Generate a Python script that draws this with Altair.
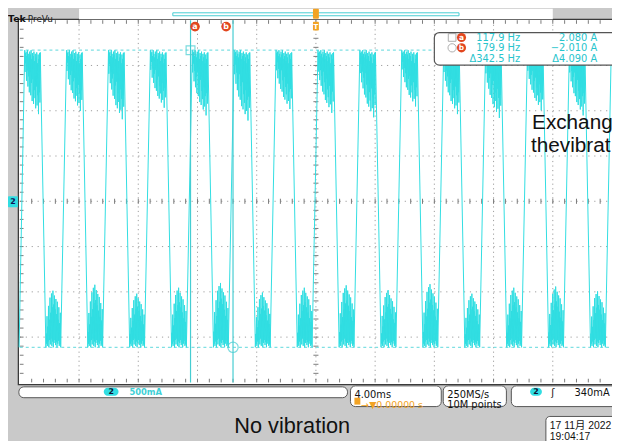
import altair as alt
import pandas as pd

# ---------------- canvas / scales ----------------
W, H = 612, 433
T_DOMAIN = [-20.8, 20.0]      # ms (4.00 ms / div, trigger at centre)
A_DOMAIN = [-3.261, 2.622]    # A
DIV_T = 4.0
DIV_A = 0.6233

# ---------------- waveform values ----------------
TOP_LEVEL = 2.080
BOTTOM_LEVEL = -2.010
PERIOD = 2.83
FIRST_TOP = -19.67
TOP_LEN, FALL_LEN, BOTTOM_LEN = 1.05, 0.38, 1.00
CURSOR_A_T = -8.47
CURSOR_B_T = -5.60

TOP_DIPS = [0.30, 0.18, 0.42, 0.28, 0.50, 0.36, 0.58, 0.30, 0.62, 0.45, 0.70,
            0.40, 0.74, 0.55, 0.66, 0.80, 0.50, 0.76, 0.62, 0.88, 0.58, 0.72]
TOP_PEAKS = [0.00, 0.04, 0.02, 0.08, 0.00, 0.05, 0.10, 0.02, 0.06, 0.00, 0.12,
             0.04, 0.08, 0.02, 0.15, 0.05, 0.10, 0.03, 0.18, 0.06, 0.12, 0.04]
BOTTOM_SPIKES = [0.20, 0.45, 0.30, 0.60, 0.40, 0.72, 0.50, 0.78, 0.58, 0.82,
                 0.62, 0.75, 0.55, 0.70, 0.48, 0.66, 0.40, 0.58, 0.35, 0.50]
BOTTOM_TROUGHS = [0.00, 0.05, 0.02, 0.08, 0.00, 0.10, 0.04, 0.12, 0.02, 0.08,
                  0.00, 0.06, 0.10, 0.03, 0.07, 0.00, 0.05, 0.09, 0.02, 0.04]
TOP_SCALE = [1.00, 0.95, 1.08, 0.90, 1.02, 1.10, 0.92, 0.98, 1.05, 0.88, 1.00, 1.06, 0.94, 1.02]
BOTTOM_SCALE = [0.95, 1.05, 0.90, 1.00, 1.08, 0.92, 1.00, 1.04, 0.96, 1.06, 0.90, 1.00, 1.02, 0.94]

READOUT_ROWS = ["117.9 Hz", "179.9 Hz", "Δ342.5 Hz"]
READOUT_VALS = ["2.080 A", "−2.010 A", "Δ4.090 A"]

CYAN = "#30dde2"
CUR = "#45cdd2"
RED = "#e2461e"
ORANGE = "#f2a324"
GRID = "#9c9c9c"
TICK = "#7a7a7a"

XS = alt.Scale(domain=T_DOMAIN, range=[0, W], nice=False, zero=False)
YS = alt.Scale(domain=A_DOMAIN, range=[H, 0], nice=False, zero=False)

# ---------------- build waveform ----------------
rows = [(-20.05, BOTTOM_LEVEL)]
for k in range(len(TOP_SCALE)):
    T = FIRST_TOP + k * PERIOD
    n = len(TOP_DIPS)
    st = TOP_LEN / n
    for i in range(n):
        rows.append((T + i * st, TOP_LEVEL - TOP_PEAKS[i]))
        rows.append((T + (i + 0.5) * st, TOP_LEVEL - TOP_DIPS[i] * TOP_SCALE[k]))
    rows.append((T + TOP_LEN, TOP_LEVEL - 0.03))
    tb = T + TOP_LEN + FALL_LEN
    m = len(BOTTOM_SPIKES)
    sb = BOTTOM_LEN / m
    for i in range(m):
        rows.append((tb + i * sb, BOTTOM_LEVEL + BOTTOM_TROUGHS[i]))
        rows.append((tb + (i + 0.5) * sb, BOTTOM_LEVEL + BOTTOM_SPIKES[i] * BOTTOM_SCALE[k]))
    rows.append((tb + BOTTOM_LEN, BOTTOM_LEVEL))
rows.append((FIRST_TOP + len(TOP_SCALE) * PERIOD, TOP_LEVEL))
wave = pd.DataFrame(rows, columns=["t", "a"])
wave["i"] = range(len(wave))

X = lambda f: alt.X(f, scale=XS, axis=None)
Y = lambda f: alt.Y(f, scale=YS, axis=None)
PX = lambda f: alt.X(f, scale=None, axis=None)
PY = lambda f: alt.Y(f, scale=None, axis=None)
XD = lambda v: alt.XDatum(v, scale=XS, axis=None)
YD = lambda v: alt.YDatum(v, scale=YS, axis=None)

A_TOP, A_BOT = 4 * DIV_A, -4 * DIV_A

# plot area
plot_bg = alt.Chart(pd.DataFrame({"t": [-20.1], "t2": [20.5], "a": [A_TOP + 0.01], "a2": [A_BOT - 0.03]})).mark_rect(
    fill="white", stroke="#3a3a3a", strokeWidth=1.3).encode(x=X("t:Q"), x2="t2:Q", y=Y("a:Q"), y2="a2:Q")

# grid
vlines = pd.DataFrame({"t": [-20 + DIV_T * k for k in range(1, 10)]})
vgrid = alt.Chart(vlines).mark_rule(color=GRID, strokeDash=[1.2, 3.4], strokeWidth=1).encode(
    x=X("t:Q"), y=YD(A_TOP), y2=alt.datum(A_BOT))
hlines = pd.DataFrame({"a": [DIV_A * j for j in range(-3, 4)]})
hgrid = alt.Chart(hlines).mark_rule(color=GRID, strokeDash=[1.2, 4.8], strokeWidth=1).encode(
    y=Y("a:Q"), x=XD(-20), x2=alt.datum(20.0))

tx = [-20 + 0.2 * DIV_T * i for i in range(1, 50)]
ay = [A_BOT + 0.2 * DIV_A * j for j in range(1, 40)]
tick_h = pd.DataFrame({"t": tx * 3,
                       "a": [-0.035] * 49 + [A_TOP] * 49 + [A_BOT] * 49,
                       "a2": [0.035] * 49 + [A_TOP - 0.05] * 49 + [A_BOT + 0.05] * 49})
ticks_h = alt.Chart(tick_h).mark_rule(color=TICK, strokeWidth=1).encode(x=X("t:Q"), y=Y("a:Q"), y2="a2:Q")
tick_v = pd.DataFrame({"a": ay * 2,
                       "t": [-0.17] * 39 + [-20] * 39,
                       "t2": [0.17] * 39 + [-19.75] * 39})
ticks_v = alt.Chart(tick_v).mark_rule(color=TICK, strokeWidth=1).encode(y=Y("a:Q"), x=X("t:Q"), x2="t2:Q")

# cursors
cur_v = alt.Chart(pd.DataFrame({"t": [CURSOR_A_T, CURSOR_B_T]})).mark_rule(color=CUR, strokeWidth=1.2).encode(
    x=X("t:Q"), y=YD(A_TOP), y2=alt.datum(A_BOT))
cur_h = alt.Chart(pd.DataFrame({"a": [TOP_LEVEL, BOTTOM_LEVEL]})).mark_rule(
    color="#7fe0e3", strokeDash=[3, 3], strokeWidth=1.2).encode(
    y=Y("a:Q"), x=XD(-20), x2=alt.datum(20.0))
cur_sq = alt.Chart(pd.DataFrame({"t": [CURSOR_A_T], "a": [TOP_LEVEL]})).mark_point(
    shape="square", size=80, filled=False, color=CUR, strokeWidth=1.2).encode(x=X("t:Q"), y=Y("a:Q"))
cur_ci = alt.Chart(pd.DataFrame({"t": [CURSOR_B_T], "a": [BOTTOM_LEVEL]})).mark_point(
    shape="circle", size=110, filled=False, color=CUR, strokeWidth=1.2).encode(x=X("t:Q"), y=Y("a:Q"))

wave_line = alt.Chart(wave).mark_line(color=CYAN, strokeWidth=1).encode(
    x=X("t:Q"), y=Y("a:Q"), order="i:Q")

# ---------------- decorations (pixel positions) ----------------
def rect(x, x2, y, y2, **kw):
    return alt.Chart(pd.DataFrame({"x": [x], "x2": [x2], "y": [y], "y2": [y2]})).mark_rect(**kw).encode(
        x=PX("x:Q"), x2="x2:Q", y=PY("y:Q"), y2="y2:Q")

def text(x, y, s, **kw):
    return alt.Chart(pd.DataFrame({"x": [x], "y": [y], "s": [s]})).mark_text(**kw).encode(
        x=PX("x:Q"), y=PY("y:Q"), text="s:N")

def dot(x, y, **kw):
    return alt.Chart(pd.DataFrame({"x": [x], "y": [y]})).mark_point(**kw).encode(x=PX("x:Q"), y=PY("y:Q"))

MONO = "DejaVu Sans"
deco = [
    rect(72, 552, -2, 8.5, fill="white"),
    rect(167, 457, 2, 5, fill=None, stroke=CUR, strokeWidth=1),
    text(0, 8, "Tek", font="DejaVu Sans", fontSize=9.5, fontWeight="bold", align="left", color="#111"),
    text(20, 8, "PreVu", font="DejaVu Sans", fontSize=9, align="left", color="#222"),
    rect(309, 315, -2, 8, fill=ORANGE, cornerRadius=1),
    rect(309, 315, 11, 20, fill=ORANGE, cornerRadius=1),
    text(312, 16, "T", font=MONO, fontSize=7, fontWeight="bold", color="white"),
    dot(189.5, 16, shape="circle", size=95, filled=True, color=RED, opacity=1),
    dot(221, 16, shape="circle", size=95, filled=True, color=RED, opacity=1),
    text(189.5, 16.5, "a", font=MONO, fontSize=8, fontWeight="bold", color="white", baseline="middle"),
    text(221, 16.5, "b", font=MONO, fontSize=8, fontWeight="bold", color="white", baseline="middle"),
    rect(0, 10, 188, 199, fill=CYAN, cornerRadius=1),
    text(5, 194, "2", font=MONO, fontSize=8, fontWeight="bold", color="#115", baseline="middle"),
    # readout box
    rect(432, 630, 22, 55, fill="white", stroke="#555", strokeWidth=1.2, cornerRadius=5),
    dot(450, 27, shape="square", size=60, filled=False, color="#8a8a8a", strokeWidth=1),
    dot(450, 37.5, shape="circle", size=70, filled=False, color="#8a8a8a", strokeWidth=1),
    dot(459.5, 27, shape="circle", size=85, filled=True, color=RED, opacity=1),
    dot(459.5, 37.5, shape="circle", size=85, filled=True, color=RED, opacity=1),
    text(459.5, 27.5, "a", font=MONO, fontSize=7.5, fontWeight="bold", color="white", baseline="middle"),
    text(459.5, 38, "b", font=MONO, fontSize=7.5, fontWeight="bold", color="white", baseline="middle"),
]
for r, (s1, s2) in enumerate(zip(READOUT_ROWS, READOUT_VALS)):
    yy = 27.5 + r * 10.5
    deco.append(text(519, yy, s1, font=MONO, fontSize=10, align="right", baseline="middle", color="#27c4cc"))
    deco.append(text(597, yy, s2, font=MONO, fontSize=10, align="right", baseline="middle", color="#27c4cc"))

deco += [
    text(531, 114, "Exchang", font="Liberation Sans", fontSize=21, align="left", color="#111"),
    text(530, 137, "thevibrat", font="Liberation Sans", fontSize=21, align="left", color="#111"),
    # bottom bar
    rect(11, 344, 381, 392, fill="white", stroke="#555", strokeWidth=1, cornerRadius=5),
    rect(97, 112, 382, 390, fill=CYAN, cornerRadius=4),
    text(104.5, 386.5, "2", font=MONO, fontSize=8, fontWeight="bold", color="#113", baseline="middle"),
    text(123, 386.5, "500mA", font=MONO, fontSize=8.5, fontWeight="bold", align="left", baseline="middle", color="#3fd0d6"),
    rect(347, 439, 380, 401, fill="white", stroke="#555", strokeWidth=1, cornerRadius=5),
    text(351, 389, "4.00ms", font=MONO, fontSize=10, align="left", color="#111"),
    rect(351, 357, 392, 399, fill=ORANGE),
    text(358, 399, "→▼0.00000 s", font=MONO, fontSize=9.5, align="left", color=ORANGE),
    rect(441, 505, 380, 401, fill="white", stroke="#555", strokeWidth=1, cornerRadius=5),
    text(445, 389, "250MS/s", font=MONO, fontSize=10, align="left", color="#111"),
    text(445, 399, "10M points", font=MONO, fontSize=10, align="left", color="#111"),
    rect(510, 630, 380, 401, fill="white", stroke="#555", strokeWidth=1, cornerRadius=5),
    rect(529, 541, 382, 390, fill=CYAN, cornerRadius=4),
    text(535, 386.5, "2", font=MONO, fontSize=8, fontWeight="bold", color="#113", baseline="middle"),
    text(552, 387, "ʃ", font=MONO, fontSize=10, color="#111", baseline="middle"),
    text(574, 387, "340mA", font=MONO, fontSize=10, align="left", color="#111", baseline="middle"),
    text(288, 421, "No vibration", font="Liberation Sans", fontSize=22, color="#111"),
    rect(545, 630, 411, 440, fill="white", stroke="#555", strokeWidth=1, cornerRadius=4),
    text(549, 421, "17 11月 2022", font="Liberation Sans, Noto Sans CJK SC", fontSize=10.5, align="left", color="#111"),
    text(549, 432, "19:04:17", font="Liberation Sans", fontSize=10.5, align="left", color="#111"),
]

chart = alt.layer(
    plot_bg, vgrid, hgrid, ticks_h, ticks_v, cur_h, wave_line, cur_v, cur_sq, cur_ci, *deco
).resolve_scale(x="independent", y="independent").properties(
    width=W, height=H, padding=0, background="#c9c9c9",
    autosize=alt.AutoSizeParams(type="none"),
).configure_view(strokeWidth=0)

chart.save("out.html", embed_options={"renderer": "svg", "actions": False})
